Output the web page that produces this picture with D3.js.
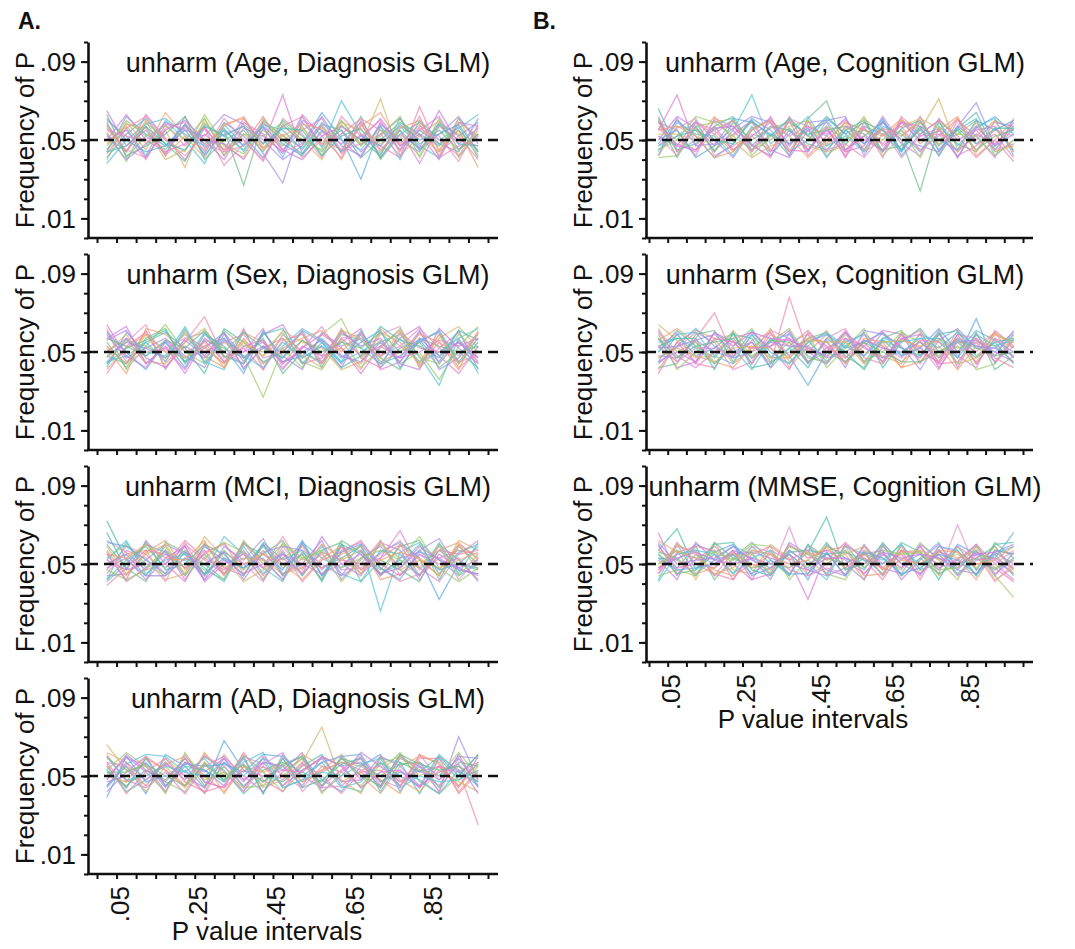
<!DOCTYPE html>
<html>
<head>
<meta charset="utf-8">
<script src="https://cdn.jsdelivr.net/npm/d3@7"></script>
<style>
  body { margin: 0; background: #fff; }
  text { font-family: "Liberation Sans", Arial, Helvetica, sans-serif; fill: #111; }
</style>
</head>
<body>
<div id="chart"></div>
<script>
// P value interval midpoints (20 bins)
const intervals = [0.025, 0.075, 0.125, 0.175, 0.225, 0.275, 0.325, 0.375, 0.425, 0.475,
  0.525, 0.575, 0.625, 0.675, 0.725, 0.775, 0.825, 0.875, 0.925, 0.975];
const xTicks = [0, 0.05, 0.1, 0.15, 0.2, 0.25, 0.3, 0.35, 0.4, 0.45, 0.5,
  0.55, 0.6, 0.65, 0.7, 0.75, 0.8, 0.85, 0.9, 0.95, 1];
const xLabels = [0.05, 0.25, 0.45, 0.65, 0.85];
const yMajor = [0.01, 0.05, 0.09];
const yMinor = [0, 0.01, 0.02, 0.03, 0.04, 0.05, 0.06, 0.07, 0.08, 0.09, 0.1];
const nominal = 0.05;

// frequency of P per interval, in thousandths (one row = one repetition)
const ageDiagnosis = [
  [58,44,63,51,40,56,45,61,48,73,43,54,50,41,59,47,55,62,45,53],
  [45,56,42,60,50,38,58,47,57,41,62,46,70,53,43,57,47,41,61,50],
  [63,41,52,45,58,48,55,27,60,52,46,57,44,62,40,53,59,48,55,44],
  [40,59,48,55,36,61,44,53,46,57,50,40,58,47,71,42,52,60,42,57],
  [52,44,57,42,62,46,53,57,43,28,59,48,55,44,53,61,45,53,62,48],
  [60,52,40,58,47,56,37,48,62,45,55,61,43,53,47,41,67,44,52,40],
  [44,62,53,47,55,43,59,52,41,58,48,64,51,30,57,45,55,48,44,61],
  [54,39,59,50,44,63,48,43,55,47,57,42,60,48,52,62,41,58,53,45],
  [48,57,45,64,52,41,57,62,46,53,41,50,45,57,64,48,58,42,59,52],
  [65,47,55,43,57,50,40,56,52,44,60,55,48,59,41,53,46,65,48,56],
  [41,53,61,48,39,58,52,45,59,50,43,58,55,41,50,59,53,47,57,41],
  [57,45,41,56,59,44,61,50,39,61,53,41,62,52,60,44,57,52,39,58],
  [50,63,50,44,48,57,42,59,53,43,63,52,41,60,45,55,38,57,50,47],
  [38,50,58,61,53,47,56,44,58,55,45,59,50,45,57,40,60,50,56,63],
  [59,42,47,53,62,40,50,55,44,60,52,44,57,50,42,61,48,55,45,53],
  [47,58,56,40,45,59,47,41,61,50,56,48,59,55,48,57,52,44,61,42],
  [53,40,48,59,55,52,63,58,50,40,47,62,47,42,58,50,44,59,52,59],
  [43,56,62,50,42,53,45,50,40,57,62,47,53,61,55,45,62,41,47,50],
  [61,50,44,47,58,42,55,47,57,48,42,55,44,52,47,58,50,53,58,44],
  [45,60,52,57,50,61,42,53,52,59,50,45,60,47,55,52,42,61,41,55],
  [56,44,60,42,52,45,58,61,45,52,58,56,40,58,44,56,60,45,55,36],
  [50,55,41,55,60,50,48,40,56,45,40,52,57,50,61,47,53,40,59,57],
  [44,47,57,48,45,57,52,57,48,56,55,42,52,56,41,55,45,58,48,47],
  [55,52,50,58,56,48,44,47,59,44,48,58,45,48,53,42,56,50,42,52]
];
const sexDiagnosis = [
  [53,44,61,42,55,68,47,52,41,59,50,44,57,48,53,61,43,55,48,60],
  [44,57,48,55,45,52,60,41,53,47,61,55,44,59,42,52,56,45,61,41],
  [61,41,53,64,50,44,55,48,27,52,42,59,67,47,56,44,50,36,53,63],
  [41,52,59,45,61,48,42,60,55,44,56,48,52,41,62,53,45,59,42,50],
  [57,63,44,52,41,57,50,44,59,64,47,53,42,60,48,57,63,44,56,47],
  [48,44,55,60,52,39,62,55,45,50,60,42,61,52,44,48,55,61,45,57],
  [45,55,64,41,57,60,45,50,62,42,52,63,48,44,59,63,42,52,60,44],
  [64,48,42,56,47,53,57,42,52,57,44,47,55,62,41,45,60,48,39,53],
  [42,60,50,48,63,45,41,61,44,53,62,56,45,50,55,59,48,33,57,62],
  [55,42,57,62,44,56,52,47,57,39,50,45,59,56,47,41,57,53,50,42],
  [50,59,45,44,55,62,47,56,48,61,55,52,41,45,60,55,44,57,63,52],
  [59,47,52,57,48,42,59,45,60,48,41,60,53,57,50,47,61,41,47,59],
  [39,53,60,50,59,52,44,62,41,56,59,44,62,47,42,60,52,50,55,45],
  [60,50,41,55,42,59,53,39,61,45,48,57,47,55,61,42,56,60,44,55],
  [47,56,53,47,60,45,61,53,50,60,45,41,56,42,52,62,47,44,59,50],
  [52,39,62,59,50,55,42,57,44,52,57,61,50,60,45,50,59,55,41,61],
  [56,61,47,42,53,47,56,50,55,41,53,48,60,53,57,44,41,62,52,44],
  [44,52,56,61,45,60,48,44,59,62,44,55,42,48,63,56,53,47,61,56],
  [62,45,50,52,57,50,55,59,47,50,61,45,57,59,48,53,62,52,45,48],
  [50,57,44,53,39,56,45,53,56,44,52,59,52,39,53,47,50,56,53,57],
  [45,48,55,45,62,44,57,48,42,55,47,53,45,61,44,57,45,50,57,39],
  [57,53,48,56,52,61,50,60,52,47,56,50,55,52,60,50,55,42,50,53],
  [53,44,59,50,47,53,44,55,48,57,48,42,61,57,47,60,42,59,44,60],
  [48,55,52,47,56,48,60,47,53,45,50,56,48,45,55,45,57,48,55,47]
];
const mciDiagnosis = [
  [72,52,44,57,48,55,45,61,52,42,56,48,53,59,45,52,44,57,50,47],
  [47,59,55,45,61,44,56,50,41,59,47,60,44,50,62,44,55,47,60,53],
  [55,42,62,50,41,60,48,44,60,50,55,42,59,45,53,67,48,41,55,62],
  [42,61,48,55,52,45,64,55,48,41,61,53,48,60,26,56,61,52,44,50],
  [60,48,41,61,56,50,42,60,55,62,44,57,61,41,52,47,41,60,52,42],
  [50,55,57,42,45,64,53,41,47,53,59,45,52,57,44,60,52,44,62,57],
  [44,45,52,60,55,42,59,52,63,45,50,62,42,53,59,48,57,63,47,45],
  [62,56,47,50,62,53,47,57,44,57,41,52,56,62,48,41,45,53,57,55],
  [41,50,60,56,44,59,52,48,55,47,62,44,60,47,56,61,53,32,50,59],
  [53,60,50,44,53,47,42,62,50,60,52,56,41,52,60,53,64,48,41,48],
  [57,44,56,62,47,55,61,45,57,44,53,48,55,59,42,45,50,57,61,52],
  [48,53,42,53,59,41,50,55,42,55,45,64,50,44,61,57,42,55,48,44],
  [66,47,61,47,50,60,55,44,61,52,57,41,60,55,45,50,60,45,56,60],
  [45,57,53,41,60,52,45,56,48,64,48,55,47,48,55,62,47,59,42,53],
  [56,41,48,57,42,56,60,50,53,42,60,47,57,61,50,44,55,50,53,41],
  [52,62,45,52,55,48,41,59,45,56,44,59,45,41,57,55,44,61,45,61],
  [42,52,59,48,57,44,57,47,59,48,55,42,62,56,47,59,62,42,59,50],
  [59,45,55,60,45,61,48,53,52,45,48,60,53,45,62,47,52,48,52,56],
  [50,55,44,44,53,50,56,42,56,59,57,50,44,57,44,53,56,53,47,45],
  [39,48,57,55,48,57,44,61,48,53,45,56,52,50,53,60,44,57,55,57],
  [61,59,52,45,56,45,53,48,60,44,61,44,56,60,48,42,57,47,50,48],
  [47,42,47,59,44,53,61,56,42,61,53,57,48,53,57,52,48,60,44,55],
  [55,53,60,53,52,62,45,50,55,50,42,53,59,47,52,56,53,44,60,47],
  [52,47,50,50,59,42,52,45,50,55,50,45,50,55,45,48,59,52,48,52]
];
const adDiagnosis = [
  [66,53,45,59,50,42,61,48,55,45,57,75,47,52,44,60,50,55,45,57],
  [48,60,52,42,57,53,45,59,41,61,50,44,60,48,57,45,55,42,70,48],
  [57,44,59,53,45,61,52,42,60,50,44,55,52,59,47,53,44,60,53,25],
  [45,55,41,61,55,44,68,53,47,56,60,48,42,55,61,42,57,50,59,45],
  [53,62,55,47,42,57,48,61,52,42,53,59,56,44,52,62,47,41,50,61],
  [61,47,50,56,60,50,42,55,45,59,47,53,61,50,41,55,60,57,42,53],
  [42,52,60,45,53,41,57,47,59,53,62,42,50,62,55,47,53,45,61,44],
  [55,42,48,57,48,60,53,41,50,47,55,61,45,42,59,57,41,59,48,56],
  [50,59,56,42,61,47,44,60,56,62,42,52,57,53,48,44,61,48,55,50],
  [60,48,44,52,41,55,60,50,42,52,59,45,53,60,45,61,52,55,44,60],
  [44,56,61,60,52,59,47,57,62,44,48,57,44,47,57,50,45,61,52,47],
  [52,45,53,48,59,45,55,45,53,57,52,47,59,56,50,56,57,44,57,55],
  [62,57,42,55,45,62,50,56,44,48,61,55,48,41,60,48,42,53,47,42],
  [47,50,57,44,57,52,59,44,57,55,45,60,55,57,44,59,55,48,60,59],
  [56,41,52,59,47,42,45,62,48,42,56,50,41,52,53,45,59,59,41,52],
  [39,60,47,50,56,55,56,52,61,60,50,57,60,61,47,52,48,41,53,45],
  [59,53,55,41,62,48,52,44,45,50,59,41,52,45,56,60,53,50,62,50],
  [50,47,60,53,44,57,41,55,52,56,47,53,57,55,48,41,61,56,45,55],
  [45,57,48,56,50,44,59,48,57,45,53,59,47,48,60,55,45,52,56,41],
  [53,44,59,45,55,53,47,60,41,59,44,48,56,59,42,57,52,60,50,61],
  [57,55,45,57,48,60,55,42,55,48,57,44,45,53,55,47,57,42,59,48],
  [48,61,53,47,59,47,44,53,50,53,52,60,55,44,52,53,44,55,52,57],
  [60,48,50,55,52,50,57,50,59,44,48,52,50,56,59,44,50,47,48,53],
  [52,52,56,50,45,56,48,56,47,55,60,45,59,50,45,61,56,53,55,47]
];
const ageCognition = [
  [55,73,47,57,45,52,59,48,55,44,57,50,45,60,52,56,44,53,48,57],
  [45,52,59,44,55,73,48,56,44,60,48,57,53,44,59,47,55,61,42,50],
  [61,44,50,55,60,45,53,42,61,70,45,52,59,50,24,57,48,44,56,45],
  [42,57,55,45,52,59,44,60,52,47,56,44,50,60,55,71,45,52,60,55],
  [52,47,60,50,41,55,61,47,57,52,61,48,56,45,62,44,57,69,47,59],
  [59,55,42,61,57,48,41,62,45,56,42,59,47,55,45,52,61,48,53,41],
  [48,60,52,41,48,61,55,44,50,61,53,45,60,42,53,60,41,56,62,53],
  [41,42,57,59,61,42,52,57,60,42,50,62,42,52,59,48,53,60,44,48],
  [57,50,45,53,44,56,60,52,41,50,59,55,52,61,48,55,62,42,50,60],
  [50,62,56,47,53,60,45,41,55,59,44,47,62,48,42,61,50,55,57,44],
  [66,45,48,57,62,47,57,55,48,45,55,60,44,56,60,45,56,64,45,56],
  [47,56,61,42,47,53,50,61,57,53,60,50,55,41,52,53,42,47,55,52],
  [56,48,44,60,55,44,62,45,44,57,41,56,48,59,57,42,60,52,41,61],
  [44,59,53,52,42,57,42,53,62,47,52,44,57,53,44,59,47,57,61,42],
  [60,41,57,44,59,50,56,59,53,55,57,53,45,47,55,50,55,45,52,55],
  [53,53,50,62,50,41,47,50,47,44,47,61,52,57,61,56,44,59,44,47],
  [42,61,47,48,56,62,59,42,59,60,62,42,59,50,47,44,57,50,59,57],
  [62,44,59,55,45,52,44,60,42,52,44,57,41,62,53,60,52,41,50,39],
  [50,55,41,47,61,59,53,48,56,41,55,48,61,44,57,50,45,60,55,60],
  [45,50,62,59,52,45,50,56,50,57,50,55,50,55,41,59,53,52,42,50],
  [55,57,52,41,44,55,60,44,60,48,59,45,56,52,60,47,61,44,60,44],
  [59,47,45,56,57,47,42,55,45,55,45,52,44,59,50,55,41,57,47,53],
  [47,52,55,50,48,60,52,61,52,62,53,59,55,45,56,42,56,48,56,56],
  [52,42,59,53,60,44,57,52,57,45,48,41,53,57,44,53,50,55,45,48]
];
const sexCognition = [
  [53,45,57,70,48,55,44,78,50,59,47,55,45,57,52,44,56,50,60,47],
  [45,59,48,52,60,44,57,48,33,50,60,45,56,48,59,55,47,67,44,57],
  [61,50,55,44,53,62,47,55,59,42,52,62,44,60,45,57,52,55,53,45],
  [41,55,61,57,44,52,60,42,53,61,44,56,53,42,56,45,61,44,57,52],
  [57,42,45,60,55,47,53,61,45,52,57,48,60,52,47,61,42,59,48,61],
  [50,61,53,47,59,57,42,52,56,45,53,60,42,55,62,50,55,47,55,44],
  [47,52,60,55,41,45,61,57,44,57,62,44,52,45,53,41,59,57,45,56],
  [60,48,42,50,57,60,52,41,60,53,45,53,61,59,44,59,48,42,61,53],
  [55,57,52,44,52,41,56,59,48,44,55,59,47,50,57,52,60,53,50,59],
  [42,44,59,61,45,59,45,50,57,60,48,42,57,61,48,60,44,60,41,48],
  [64,56,47,48,61,50,62,45,52,47,59,50,48,44,60,47,53,45,59,55],
  [48,47,56,59,50,55,42,60,44,56,42,61,59,53,41,56,62,52,52,60],
  [52,60,44,42,56,44,59,53,61,50,61,47,44,56,61,44,45,57,47,42],
  [44,53,62,53,47,61,50,44,55,59,52,55,60,48,52,62,50,61,56,50],
  [59,41,50,56,59,48,55,62,47,45,56,45,50,60,55,48,57,41,44,59],
  [56,62,55,45,42,53,47,47,57,55,44,57,55,42,45,53,41,53,60,52],
  [45,50,45,60,53,60,57,56,52,48,60,52,47,57,59,42,55,56,50,45],
  [53,57,57,41,60,42,44,52,42,57,50,41,56,52,48,59,61,48,55,57],
  [62,45,52,52,48,56,60,48,59,52,47,59,53,47,56,55,50,55,45,53],
  [39,55,44,57,55,52,53,57,50,44,57,53,45,59,50,45,59,44,57,47],
  [50,59,60,48,44,59,48,44,55,60,53,48,57,55,57,57,47,59,53,56],
  [57,47,53,55,57,47,56,55,45,50,45,55,50,45,45,50,56,52,48,50],
  [47,52,48,45,52,53,52,47,56,55,55,44,55,56,53,56,44,47,59,55],
  [52,53,56,50,47,50,55,53,53,47,50,56,52,50,55,47,57,53,52,48]
];
const mmseCognition = [
  [57,68,47,55,45,59,50,48,56,74,47,53,45,57,50,55,45,53,59,47],
  [47,55,57,44,56,50,45,69,44,50,57,45,55,48,59,45,70,47,50,57],
  [66,45,52,59,50,42,57,52,32,56,44,59,50,55,44,57,50,60,45,52],
  [42,60,45,52,59,55,44,57,50,42,60,48,56,44,53,61,44,52,55,44],
  [55,48,59,42,53,61,52,44,60,53,50,56,44,60,47,50,57,44,61,53],
  [50,57,42,61,47,45,60,53,45,59,55,42,60,52,57,44,53,57,42,48],
  [60,44,55,50,57,53,42,61,55,47,44,60,48,45,60,53,47,45,56,60],
  [45,61,50,45,42,57,55,45,59,52,61,52,42,57,42,59,56,50,48,41],
  [53,52,60,56,60,44,48,55,42,60,53,47,61,50,55,47,60,55,53,66],
  [44,47,44,57,52,60,59,42,52,45,42,57,53,47,61,52,42,59,44,33],
  [62,56,53,47,44,50,47,59,55,57,59,44,45,59,45,56,53,42,57,55],
  [52,42,61,52,55,56,53,50,47,44,48,55,57,42,52,60,48,56,52,45],
  [56,53,44,60,61,47,44,56,57,55,56,52,50,61,56,42,59,47,60,61],
  [47,59,56,44,50,59,56,47,44,48,45,57,44,53,50,55,44,55,41,50],
  [59,48,50,48,57,42,45,60,53,57,52,45,55,48,59,48,52,60,50,42],
  [41,55,57,55,45,53,57,44,60,44,59,55,52,60,47,59,57,44,55,59],
  [55,45,47,61,53,48,50,55,48,61,47,50,60,44,53,45,50,53,47,53],
  [48,60,55,45,48,57,55,48,56,52,55,59,47,56,57,52,55,48,59,45],
  [61,50,52,53,59,52,48,57,50,55,50,42,59,50,45,57,47,57,44,56],
  [45,56,59,57,42,55,59,52,57,45,60,53,48,57,55,50,59,52,53,48],
  [53,47,48,50,55,45,52,45,45,56,44,56,53,45,48,55,52,45,57,55],
  [50,57,53,56,52,56,45,59,55,50,57,48,57,55,56,47,48,59,48,52],
  [57,52,45,48,56,48,55,50,52,59,48,55,47,52,50,57,56,50,52,59],
  [48,53,56,52,50,53,50,55,47,53,53,50,56,53,55,53,50,55,56,50]
];

const titlesA = ["unharm (Age, Diagnosis GLM)", "unharm (Sex, Diagnosis GLM)",
  "unharm (MCI, Diagnosis GLM)", "unharm (AD, Diagnosis GLM)"];
const titlesB = ["unharm (Age, Cognition GLM)", "unharm (Sex, Cognition GLM)",
  "unharm (MMSE, Cognition GLM)"];
const seriesA = [ageDiagnosis, sexDiagnosis, mciDiagnosis, adDiagnosis];
const seriesB = [ageCognition, sexCognition, mmseCognition];

// pastel palette close to the original figure
const palette = ["#e07bd6", "#5cc3dc", "#6dbf86", "#d8b46c", "#a68de6", "#ee86b0",
  "#62a9e2", "#9ccc6c", "#f0a070", "#c77fe0", "#4fbfb0", "#e891c8"];

const width = 1075, height = 949;
const svg = d3.select("#chart").append("svg")
  .attr("width", width).attr("height", height);

// column geometry: y-axis position, end of x-axis, x range for [0, 1]
const columns = [
  { letter: "A.", letterX: 18, axisX: 88, axisEnd: 498, xRange: [97, 488], titleX: 308, xLabelX: 267,
    titles: titlesA, series: seriesA },
  { letter: "B.", letterX: 533, axisX: 646, axisEnd: 1033, xRange: [649, 1023], titleX: 845, xLabelX: 813,
    titles: titlesB, series: seriesB }
];
const rowTops = [42, 254, 466, 678];
const panelH = 196;

columns.forEach(function (col) {
  svg.append("text")
    .attr("x", col.letterX).attr("y", 29)
    .style("font-size", "23px").style("font-weight", "bold")
    .text(col.letter);

  var x = d3.scaleLinear().domain([0, 1]).range(col.xRange);

  col.series.forEach(function (rows, p) {
    var top = rowTops[p], bottom = top + panelH;
    var y = d3.scaleLinear().domain([0, 0.1]).range([bottom, top]);
    var g = svg.append("g");

    // repetition lines
    var line = d3.line()
      .x(function (d, i) { return x(intervals[i]); })
      .y(function (d) { return y(d / 1000); });

    g.append("g").selectAll("path")
      .data(rows)
      .enter()
      .append("path")
      .attr("d", line)
      .attr("fill", "none")
      .attr("stroke", function (d, i) { return palette[(i + p * 5) % palette.length]; })
      .attr("stroke-width", 1.3)
      .attr("stroke-opacity", 0.72);

    // nominal alpha line
    g.append("line")
      .attr("x1", col.axisX).attr("x2", col.axisEnd)
      .attr("y1", y(nominal)).attr("y2", y(nominal))
      .attr("stroke", "#111").attr("stroke-width", 2.6)
      .attr("stroke-dasharray", "10,6");

    // y axis: minor then major ticks
    var yMinorAxis = d3.axisLeft(y).tickValues(yMinor).tickSize(4).tickFormat("");
    g.append("g").attr("transform", `translate(${col.axisX},0)`).call(yMinorAxis)
      .call(function (s) { s.select(".domain").remove(); });

    var yAxis = d3.axisLeft(y).tickValues(yMajor).tickSize(7).tickSizeOuter(0)
      .tickPadding(5)
      .tickFormat(function (d) { return d3.format(".2f")(d).replace(/^0/, ""); });
    var ya = g.append("g").attr("transform", `translate(${col.axisX},0)`).call(yAxis);
    ya.selectAll("text").style("font-size", "26px").attr("dy", "0.36em");

    // x axis
    var xAxis = d3.axisBottom(x).tickValues(xTicks).tickSize(5).tickFormat("");
    var xa = g.append("g").attr("transform", `translate(0,${bottom})`).call(xAxis);
    xa.select(".domain").remove();
    xa.append("line")
      .attr("x1", col.axisX - 1).attr("x2", col.axisEnd)
      .attr("stroke", "#111").attr("stroke-width", 2.6);

    svg.selectAll(".domain").attr("stroke-width", 2.6).attr("stroke", "#111");
    svg.selectAll(".tick line").attr("stroke-width", 2).attr("stroke", "#111");

    // y title
    svg.append("text")
      .attr("transform", `translate(${col.axisX - 54},${(top + bottom) / 2}) rotate(-90)`)
      .attr("text-anchor", "middle")
      .style("font-size", "26px")
      .text("Frequency of P");

    // panel title
    svg.append("text")
      .attr("x", col.titleX).attr("y", top + 30)
      .attr("text-anchor", "middle")
      .style("font-size", "27px")
      .text(col.titles[p]);

    // bottom panel gets tick labels and axis title
    if (p === col.series.length - 1) {
      g.selectAll(".xlab")
        .data(xLabels)
        .enter()
        .append("text")
        .attr("class", "xlab")
        .attr("transform", function (d) { return `translate(${x(d) + 3},${bottom + 12}) rotate(-90)`; })
        .attr("text-anchor", "end")
        .attr("dy", "0.36em")
        .style("font-size", "26px")
        .text(function (d) { return d3.format(".2f")(d).replace(/^0/, ""); });

      svg.append("text")
        .attr("x", col.xLabelX).attr("y", bottom + 66)
        .attr("text-anchor", "middle")
        .style("font-size", "26px")
        .text("P value intervals");
    }
  });
});
</script>
</body>
</html>
